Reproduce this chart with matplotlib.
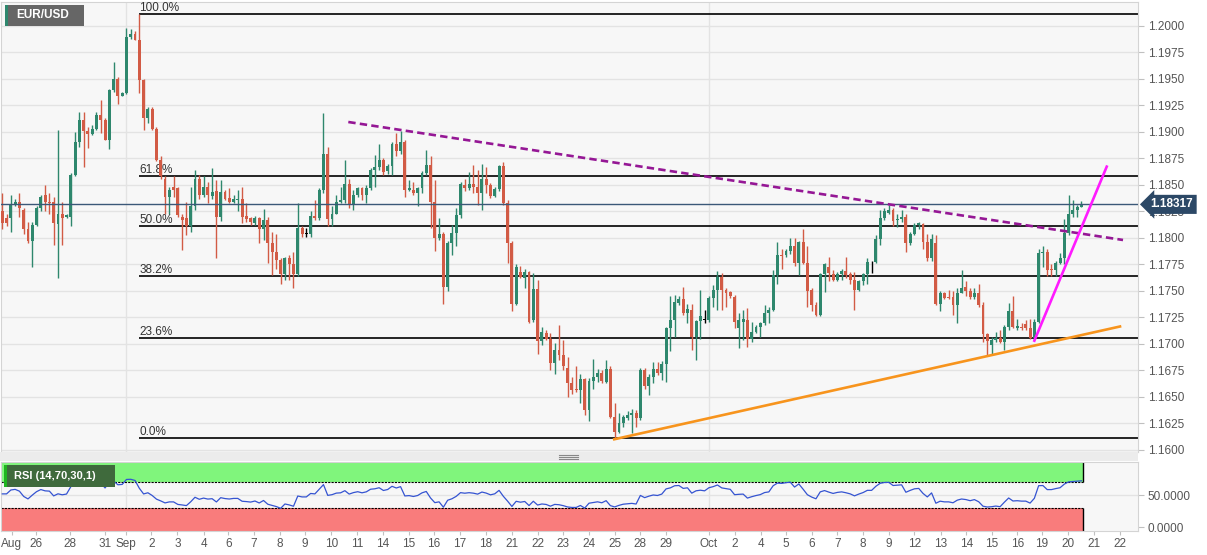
import numpy as np
import pandas as pd
import matplotlib.pyplot as plt
from matplotlib.patches import Rectangle

plt.rcParams['font.family'] = ['Liberation Sans', 'DejaVu Sans']

# EUR/USD 4H candles, Aug 25 - Oct 20
opens = [1.1825,1.1819,1.1819,1.1831,1.1834,1.1826,1.1808,1.1797,1.1812,1.1828,
         1.1841,1.1834,1.1834,1.1813,1.1823,1.1820,1.1820,1.1859,1.1891,1.1911,
         1.1901,1.1898,1.1903,1.1916,1.1911,1.1892,1.1940,1.1950,1.1934,1.1937,
         1.1990,1.1992,1.1987,1.1949,1.1913,1.1922,1.1903,1.1874,1.1856,1.1839,
         1.1848,1.1847,1.1820,1.1819,1.1811,1.1830,1.1856,1.1841,1.1848,1.1840,
         1.1844,1.1820,1.1843,1.1838,1.1834,1.1836,1.1837,1.1821,1.1819,1.1814,
         1.1819,1.1808,1.1817,1.1795,1.1787,1.1779,1.1766,1.1781,1.1775,1.1766,
         1.1809,1.1804,1.1804,1.1821,1.1819,1.1845,1.1879,1.1818,1.1823,1.1834,
         1.1836,1.1851,1.1831,1.1841,1.1847,1.1841,1.1847,1.1864,1.1867,1.1874,
         1.1863,1.1868,1.1889,1.1882,1.1891,1.1845,1.1845,1.1842,1.1847,1.1861,
         1.1869,1.1834,1.1800,1.1804,1.1754,1.1795,1.1805,1.1822,1.1850,1.1847,
         1.1851,1.1848,1.1842,1.1856,1.1850,1.1840,1.1846,1.1868,1.1833,1.1795,
         1.1738,1.1768,1.1762,1.1768,1.1723,1.1752,1.1703,1.1710,1.1705,1.1682,
         1.1694,1.1690,1.1677,1.1663,1.1658,1.1657,1.1667,1.1638,1.1665,1.1669,
         1.1673,1.1664,1.1676,1.1631,1.1617,1.1625,1.1630,1.1633,1.1635,1.1630,
         1.1675,1.1660,1.1669,1.1676,1.1673,1.1681,1.1715,1.1723,1.1739,1.1742,
         1.1729,1.1732,1.1707,1.1722,1.1723,1.1723,1.1743,1.1751,1.1763,1.1751,
         1.1749,1.1744,1.1715,1.1721,1.1723,1.1705,1.1711,1.1716,1.1720,1.1729,
         1.1732,1.1765,1.1784,1.1784,1.1788,1.1792,1.1776,1.1796,1.1776,1.1751,
         1.1737,1.1727,1.1766,1.1773,1.1766,1.1760,1.1766,1.1769,1.1766,1.1760,
         1.1751,1.1759,1.1766,1.1777,1.1777,1.1799,1.1819,1.1824,1.1826,1.1817,
         1.1818,1.1820,1.1795,1.1804,1.1812,1.1813,1.1796,1.1781,1.1795,1.1738,
         1.1748,1.1744,1.1744,1.1737,1.1748,1.1754,1.1750,1.1744,1.1748,1.1737,
         1.1709,1.1699,1.1704,1.1706,1.1702,1.1716,1.1731,1.1715,1.1716,1.1719,
         1.1715,1.1706,1.1721,1.1786,1.1787,1.1771,1.1770,1.1776,1.1781,1.1805,
         1.1823,1.1826,1.1829]
highs = [1.1842,1.1823,1.1841,1.1837,1.1842,1.1828,1.1815,1.1815,1.1830,1.1841,
         1.1850,1.1842,1.1839,1.1902,1.1834,1.1823,1.1861,1.1900,1.1919,1.1919,
         1.1905,1.1907,1.1919,1.1930,1.1913,1.1941,1.1966,1.1952,1.1938,1.1998,
         1.1997,1.1995,1.2011,1.1950,1.1924,1.1924,1.1905,1.1877,1.1858,1.1848,
         1.1858,1.1848,1.1823,1.1834,1.1848,1.1864,1.1859,1.1858,1.1853,1.1866,
         1.1855,1.1855,1.1845,1.1847,1.1841,1.1845,1.1848,1.1833,1.1820,1.1821,
         1.1820,1.1827,1.1820,1.1806,1.1804,1.1781,1.1782,1.1784,1.1787,1.1833,
         1.1811,1.1809,1.1825,1.1836,1.1847,1.1918,1.1886,1.1830,1.1841,1.1848,
         1.1874,1.1856,1.1845,1.1848,1.1848,1.1850,1.1866,1.1878,1.1889,1.1875,
         1.1870,1.1891,1.1899,1.1901,1.1892,1.1855,1.1853,1.1848,1.1863,1.1883,
         1.1877,1.1855,1.1819,1.1806,1.1797,1.1812,1.1828,1.1853,1.1856,1.1862,
         1.1869,1.1864,1.1870,1.1867,1.1852,1.1848,1.1869,1.1872,1.1836,1.1797,
         1.1775,1.1774,1.1771,1.1769,1.1767,1.1760,1.1716,1.1713,1.1710,1.1701,
         1.1718,1.1704,1.1688,1.1669,1.1679,1.1672,1.1668,1.1668,1.1686,1.1676,
         1.1675,1.1685,1.1679,1.1644,1.1635,1.1633,1.1637,1.1639,1.1638,1.1677,
         1.1677,1.1672,1.1683,1.1683,1.1684,1.1716,1.1745,1.1746,1.1745,1.1754,
         1.1738,1.1738,1.1723,1.1751,1.1732,1.1745,1.1756,1.1769,1.1767,1.1753,
         1.1750,1.1746,1.1729,1.1732,1.1734,1.1721,1.1718,1.1721,1.1737,1.1735,
         1.1770,1.1796,1.1790,1.1790,1.1800,1.1800,1.1797,1.1808,1.1792,1.1753,
         1.1740,1.1767,1.1776,1.1782,1.1770,1.1768,1.1771,1.1782,1.1768,1.1768,
         1.1760,1.1767,1.1781,1.1778,1.1803,1.1826,1.1828,1.1831,1.1828,1.1823,
         1.1826,1.1823,1.1806,1.1814,1.1815,1.1814,1.1804,1.1804,1.1803,1.1750,
         1.1749,1.1751,1.1750,1.1753,1.1770,1.1759,1.1753,1.1753,1.1757,1.1740,
         1.1710,1.1707,1.1711,1.1713,1.1718,1.1739,1.1745,1.1724,1.1720,1.1723,
         1.1724,1.1724,1.1790,1.1792,1.1790,1.1775,1.1778,1.1786,1.1818,1.1841,
         1.1836,1.1831,1.1835]
lows = [1.1808,1.1811,1.1806,1.1830,1.1820,1.1804,1.1795,1.1773,1.1811,1.1825,
        1.1825,1.1823,1.1793,1.1762,1.1793,1.1819,1.1811,1.1858,1.1886,1.1867,
        1.1885,1.1897,1.1902,1.1899,1.1892,1.1884,1.1938,1.1926,1.1934,1.1936,
        1.1988,1.1987,1.1937,1.1902,1.1908,1.1902,1.1873,1.1856,1.1823,1.1823,
        1.1839,1.1820,1.1789,1.1803,1.1806,1.1826,1.1837,1.1839,1.1833,1.1837,
        1.1781,1.1816,1.1836,1.1833,1.1833,1.1825,1.1814,1.1815,1.1812,1.1812,
        1.1795,1.1798,1.1776,1.1765,1.1771,1.1757,1.1760,1.1760,1.1753,1.1764,
        1.1801,1.1801,1.1801,1.1817,1.1817,1.1842,1.1811,1.1811,1.1823,1.1833,
        1.1833,1.1828,1.1826,1.1839,1.1836,1.1833,1.1845,1.1848,1.1864,1.1859,
        1.1860,1.1859,1.1877,1.1879,1.1839,1.1844,1.1841,1.1830,1.1842,1.1859,
        1.1809,1.1788,1.1798,1.1738,1.1750,1.1784,1.1792,1.1819,1.1844,1.1845,
        1.1842,1.1831,1.1826,1.1842,1.1838,1.1839,1.1844,1.1831,1.1776,1.1731,
        1.1737,1.1762,1.1753,1.1720,1.1721,1.1691,1.1699,1.1704,1.1675,1.1672,
        1.1685,1.1675,1.1650,1.1653,1.1655,1.1644,1.1633,1.1627,1.1658,1.1664,
        1.1663,1.1663,1.1630,1.1611,1.1616,1.1622,1.1628,1.1616,1.1622,1.1628,
        1.1658,1.1652,1.1663,1.1671,1.1666,1.1664,1.1693,1.1707,1.1737,1.1727,
        1.1720,1.1694,1.1685,1.1705,1.1720,1.1721,1.1735,1.1732,1.1732,1.1735,
        1.1743,1.1715,1.1696,1.1704,1.1697,1.1702,1.1710,1.1707,1.1718,1.1720,
        1.1731,1.1757,1.1771,1.1782,1.1785,1.1774,1.1765,1.1775,1.1735,1.1731,
        1.1726,1.1726,1.1749,1.1759,1.1759,1.1759,1.1760,1.1762,1.1757,1.1732,
        1.1750,1.1756,1.1757,1.1767,1.1776,1.1793,1.1817,1.1823,1.1811,1.1810,
        1.1815,1.1787,1.1793,1.1803,1.1808,1.1790,1.1778,1.1778,1.1737,1.1731,
        1.1742,1.1742,1.1727,1.1720,1.1748,1.1745,1.1742,1.1742,1.1735,1.1702,
        1.1689,1.1691,1.1702,1.1701,1.1694,1.1713,1.1715,1.1713,1.1713,1.1713,
        1.1705,1.1704,1.1720,1.1773,1.1764,1.1764,1.1764,1.1775,1.1775,1.1803,
        1.1820,1.1820,1.1829]
closes = [1.1814,1.1814,1.1831,1.1834,1.1828,1.1808,1.1797,1.1812,1.1828,1.1839,
          1.1834,1.1833,1.1814,1.1823,1.1819,1.1822,1.1859,1.1891,1.1911,1.1901,
          1.1898,1.1903,1.1916,1.1911,1.1892,1.1940,1.1950,1.1934,1.1937,1.1990,
          1.1992,1.1987,1.1949,1.1913,1.1922,1.1903,1.1874,1.1858,1.1839,1.1845,
          1.1845,1.1822,1.1817,1.1811,1.1830,1.1856,1.1841,1.1848,1.1841,1.1843,
          1.1820,1.1843,1.1837,1.1834,1.1837,1.1837,1.1820,1.1818,1.1815,1.1819,
          1.1808,1.1817,1.1795,1.1787,1.1779,1.1766,1.1781,1.1775,1.1766,1.1809,
          1.1804,1.1804,1.1821,1.1819,1.1845,1.1879,1.1818,1.1823,1.1834,1.1836,
          1.1851,1.1831,1.1841,1.1847,1.1841,1.1847,1.1864,1.1867,1.1874,1.1862,
          1.1868,1.1889,1.1882,1.1891,1.1845,1.1847,1.1842,1.1847,1.1861,1.1869,
          1.1834,1.1800,1.1804,1.1754,1.1795,1.1805,1.1822,1.1851,1.1847,1.1851,
          1.1848,1.1842,1.1856,1.1850,1.1840,1.1846,1.1868,1.1833,1.1795,1.1738,
          1.1773,1.1763,1.1768,1.1721,1.1752,1.1703,1.1711,1.1705,1.1682,1.1694,
          1.1690,1.1679,1.1663,1.1657,1.1657,1.1667,1.1638,1.1665,1.1669,1.1673,
          1.1665,1.1676,1.1631,1.1617,1.1625,1.1631,1.1633,1.1635,1.1630,1.1675,
          1.1660,1.1669,1.1676,1.1673,1.1681,1.1715,1.1723,1.1740,1.1742,1.1729,
          1.1733,1.1707,1.1722,1.1726,1.1723,1.1743,1.1751,1.1763,1.1751,1.1748,
          1.1745,1.1721,1.1723,1.1724,1.1705,1.1711,1.1716,1.1720,1.1729,1.1732,
          1.1765,1.1784,1.1783,1.1788,1.1792,1.1776,1.1796,1.1776,1.1750,1.1737,
          1.1727,1.1766,1.1775,1.1767,1.1760,1.1766,1.1769,1.1765,1.1760,1.1751,
          1.1759,1.1766,1.1777,1.1777,1.1799,1.1819,1.1825,1.1826,1.1816,1.1818,
          1.1820,1.1795,1.1804,1.1812,1.1814,1.1796,1.1781,1.1799,1.1738,1.1748,
          1.1743,1.1743,1.1737,1.1748,1.1753,1.1750,1.1744,1.1748,1.1737,1.1709,
          1.1703,1.1704,1.1706,1.1702,1.1716,1.1731,1.1716,1.1717,1.1715,1.1715,
          1.1706,1.1721,1.1786,1.1787,1.1770,1.1770,1.1776,1.1781,1.1805,1.1823,
          1.1826,1.1829,1.18317]

# day labels (position in candles)
tick_idx = [2.2, 7.8, 15.9, 23.9, 28.8, 34.8, 40.9, 47.0, 52.8, 58.8, 64.9, 70.7,
            76.8, 82.9, 88.9, 95.0, 100.8, 106.9, 112.9, 119.0, 125.1, 130.9, 137.0,
            143.0, 148.9, 155.0, 165.0, 171.0, 177.1, 182.9, 189.0, 195.0, 200.9,
            207.0, 213.0, 219.1, 225.1, 231.0, 237.0, 242.8, 248.9, 255.0, 261.0]
tick_lbl = ['Aug', '26', '28', '31', 'Sep', '2', '3', '4', '6', '7', '8', '9',
            '10', '11', '14', '15', '16', '17', '18', '21', '22', '23', '24',
            '25', '28', '29', 'Oct', '2', '4', '5', '6', '7', '8', '9',
            '12', '13', '14', '15', '16', '19', '20', '21', '22']
month_idx = [28.8, 165.0]

fib_pct = [0.0, 23.6, 38.2, 50.0, 61.8, 100.0]
fib_start = 32  # candle of the 1.2011 top

# drawn trend lines (candle index, price)
resist_x, resist_y = [80.8, 261.7], [1.19094, 1.17981]
support_x, support_y = [142.9, 261.0], [1.16101, 1.17165]
steep_x, steep_y = [241.0, 257.9], [1.17031, 1.18673]
last_price = 1.18317

W, H = 1207, 555
def box(x0, y0, x1, y1):
    return [x0 / W, 1 - y1 / H, (x1 - x0) / W, (y1 - y0) / H]

fig = plt.figure(figsize=(W / 100, H / 100), dpi=100)
ax = fig.add_axes(box(1, 2, 1138, 452))
ax2 = fig.add_axes(box(1, 462, 1138, 531))

bg = '#f7f7f7'
grid_c = '#e3e3e3'
up_c, dn_c = '#2e876d', '#d25b45'
xmin, xmax = -0.3, 265.2

o, h, l, c = map(np.array, (opens, highs, lows, closes))
h = np.maximum(h, np.maximum(o, c))
l = np.minimum(l, np.minimum(o, c))
x = np.arange(len(c))
col = np.where(c > o, up_c, np.where(c < o, dn_c, 'black'))

ax.set_facecolor(bg)
ax.vlines(x, l, h, colors=col, lw=1, zorder=3)
ax.bar(x, np.maximum(np.abs(c - o), 0.00003), bottom=np.minimum(o, c), width=0.68,
       color=col, lw=0, zorder=4)

hi, lo = h.max(), l.min()
for p in fib_pct:
    lev = lo + (hi - lo) * p / 100
    ax.hlines(lev, fib_start, xmax, color='black', lw=1.2, zorder=2.5)
    ax.annotate(f'{p:.1f}%', (fib_start, lev), xytext=(0, 0.5), textcoords='offset points',
                ha='left', va='bottom', fontsize=8.5, color='#333')

ax.plot(resist_x, resist_y, color='#951795', lw=1.9, ls=(0, (2.8, 1.6)), zorder=6)
ax.plot(support_x, support_y, color='#f7941d', lw=1.9, zorder=6)
ax.plot(steep_x, steep_y, color='#ff1aff', lw=1.9, zorder=6)

ax.axhline(last_price, color='#3b5878', lw=1, zorder=5)
ax.annotate(f'{last_price:.5f}', xy=(1.0, last_price), xycoords=('axes fraction', 'data'),
            xytext=(9, 0), textcoords='offset points', ha='left', va='center',
            fontsize=8.5, fontweight='bold', color='white', annotation_clip=False, zorder=20,
            bbox=dict(boxstyle='larrow,pad=0.3', fc='#2c4866', ec='none'))

ax.set_xlim(xmin, xmax)
ax.set_ylim(1.15981, 1.20226)
yt = np.arange(1.16, 1.20001, 0.0025)
ax.set_yticks(yt)
ax.set_yticklabels([f'{v:.4f}' for v in yt])
ax.yaxis.tick_right()
ax.tick_params(axis='y', length=4, color='#c0c0c0', labelsize=8.5, labelcolor='#555', pad=3)
ax.set_xticks([])
ax.grid(axis='y', color=grid_c, lw=1, zorder=0)
for m in month_idx:
    ax.axvline(m, color=grid_c, lw=1, zorder=0)
for s in ax.spines.values():
    s.set_color('#d4d4d4')

# RSI(14)
delta = np.diff(c)
gain = np.clip(delta, 0, None)
loss = np.clip(-delta, 0, None)
ag, al = gain[:14].mean(), loss[:14].mean()
rsi = [100 - 100 / (1 + ag / al)]
for g, ls_ in zip(gain, loss):
    ag = (ag * 13 + g) / 14
    al = (al * 13 + ls_) / 14
    rsi.append(100 - 100 / (1 + ag / al))
rsi = pd.Series(rsi)

ax2.set_facecolor(bg)
xe = x[-1] + 0.4
ax2.fill_between([xmin, xe], 70, 101.5, color='#80f57c', lw=0, zorder=1)
ax2.fill_between([xmin, xe], -6, 30, color='#f97c7c', lw=0, zorder=1)
ax2.hlines([30, 70], xmin, xe, colors='black', lw=0.8, ls=(0, (2, 1)), zorder=2)
ax2.vlines(xe, 70, 101.5, colors='black', lw=1, zorder=2)
ax2.vlines(xe, -6, 30, colors='black', lw=1, zorder=2)
ax2.plot(x, rsi, color='#3554d1', lw=0.9, zorder=3)
ax2.axhline(50, color=grid_c, lw=1, zorder=0)
for m in month_idx:
    ax2.axvline(m, color=grid_c, lw=1, zorder=0)
ax2.set_xlim(xmin, xmax)
ax2.set_ylim(-6, 101.5)
ax2.set_yticks([0, 50])
ax2.set_yticklabels(['0.0000', '50.0000'])
ax2.yaxis.tick_right()
ax2.tick_params(axis='y', length=4, color='#c0c0c0', labelsize=8.5, labelcolor='#555', pad=3)
ax2.set_xticks(tick_idx)
ax2.set_xticklabels(tick_lbl)
ax2.tick_params(axis='x', length=3, color='#c0c0c0', labelsize=8.5, labelcolor='#555', pad=2)
for s in ax2.spines.values():
    s.set_color('#d4d4d4')

# panel splitter + labels
fig.patches.append(Rectangle((0, 1 - 461 / H), 1138 / W, 9 / H, transform=fig.transFigure,
                             fc='#ececec', ec='none'))
for dy in (455, 457, 459):
    fig.lines.append(plt.Line2D([559 / W, 578 / W], [1 - dy / H] * 2,
                                transform=fig.transFigure, color='#888', lw=0.8))

fig.patches.append(Rectangle((5 / W, 1 - 26 / H), 79 / W, 21 / H, transform=fig.transFigure,
                             fc='#666666', ec='none', zorder=10))
fig.patches.append(Rectangle((5 / W, 1 - 26 / H), 2.5 / W, 21 / H, transform=fig.transFigure,
                             fc=up_c, ec='none', zorder=11))
fig.text(16 / W, 1 - 15.5 / H, 'EUR/USD', color='white', fontsize=8.5, fontweight='bold',
         va='center', ha='left', zorder=12)

fig.patches.append(Rectangle((4 / W, 1 - 487 / H), 111 / W, 22 / H, transform=fig.transFigure,
                             fc='#3f6a3c', ec='none', zorder=10))
fig.patches.append(Rectangle((4 / W, 1 - 487 / H), 3 / W, 22 / H, transform=fig.transFigure,
                             fc='#1fb51f', ec='none', zorder=11))
fig.text(14 / W, 1 - 476 / H, 'RSI (14,70,30,1)', color='white', fontsize=8, fontweight='bold',
         va='center', ha='left', zorder=12)

fig.savefig('out.png', dpi=100, facecolor='white')
